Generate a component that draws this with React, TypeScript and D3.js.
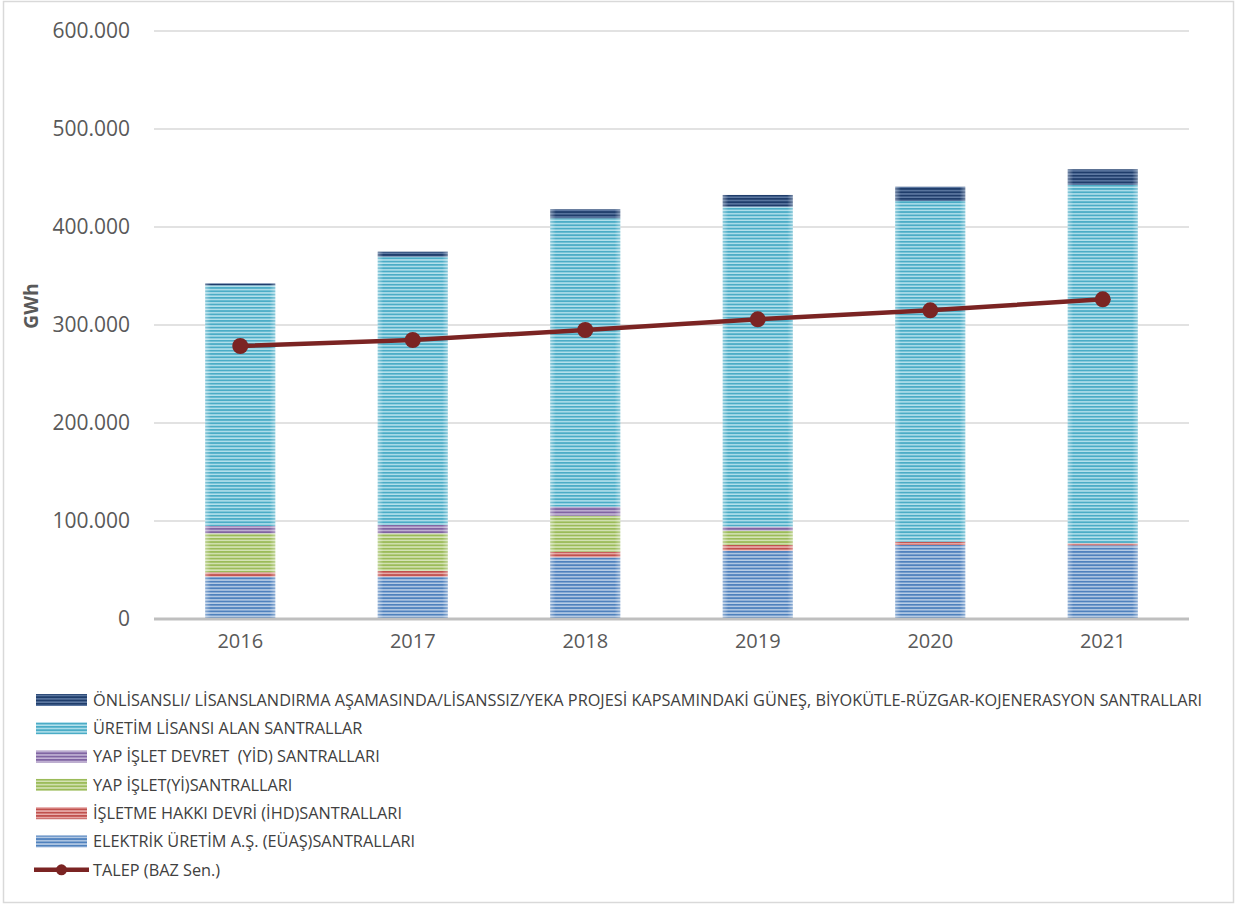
import React from "react";
import * as d3 from "d3";

const years = ["2016", "2017", "2018", "2019", "2020", "2021"];
const euas = [43200, 43200, 63000, 69700, 75500, 75200];
const ihd = [4400, 5800, 5700, 5800, 3400, 2000];
const yi = [39800, 38400, 36700, 14600, 0, 0];
const yid = [7500, 8500, 9200, 4100, 0, 0];
const uretim = [245600, 273800, 294300, 326500, 347600, 365700];
const onl = [2000, 5100, 9200, 12000, 14600, 16000];
const talep = [278600, 284700, 294900, 305800, 315000, 326200];
const yTicks = [0, 100000, 200000, 300000, 400000, 500000, 600000];

const seriesNames = [
  "ELEKTRİK ÜRETİM A.Ş. (EÜAŞ)SANTRALLARI",
  "İŞLETME HAKKI DEVRİ (İHD)SANTRALLARI",
  "YAP İŞLET(Yİ)SANTRALLARI",
  "YAP İŞLET DEVRET  (YİD) SANTRALLARI",
  "ÜRETİM LİSANSI ALAN SANTRALLAR",
  "ÖNLİSANSLI/ LİSANSLANDIRMA AŞAMASINDA/LİSANSSIZ/YEKA PROJESİ KAPSAMINDAKİ GÜNEŞ, BİYOKÜTLE-RÜZGAR-KOJENERASYON SANTRALLARI",
];
const seriesValues = [euas, ihd, yi, yid, uretim, onl];
const talepName = "TALEP (BAZ Sen.)";

const stripeColors = ["#4f81bd", "#c0504d", "#9bbb59", "#8064a2", "#4bacc6", "#1f3d6b"];
const bgColors = ["#b9cde6", "#eab0ae", "#d6e4b8", "#c4b5d6", "#b5e1ec", "#5f7aa3"];

const W = 1237;
const H = 907;
const left = 154;
const right = 1189;
const top = 31;
const bottom = 619;

const fmt = d3
  .formatLocale({ decimal: ",", thousands: ".", grouping: [3], currency: ["", ""] })
  .format(",");

export default function App() {
  const x = d3.scaleBand<string>().domain(years).range([left, right]).paddingInner(0.594).paddingOuter(0.297);
  const y = d3.scaleLinear().domain([0, 600000]).range([bottom, top]);

  const table = years.map((yr, i) => {
    const row: any = { year: yr };
    seriesValues.forEach((s, k) => (row["s" + k] = s[i]));
    return row;
  });
  const stack = d3.stack<any>().keys(seriesValues.map((_, k) => "s" + k));
  const stacked = stack(table);

  const line = d3
    .line<number>()
    .x((_, i) => (x(years[i]) as number) + x.bandwidth() / 2)
    .y((d) => y(d));

  const font = "'Open Sans', 'DejaVu Sans', sans-serif";
  const legendOrder = [5, 4, 3, 2, 1, 0];
  const legendY0 = 700;
  const legendStep = 28.3;

  return (
    <div style={{ position: "absolute", left: 0, top: 0 }}>
      <svg width={W} height={H} style={{ display: "block", background: "#fff" }}>
        <defs>
          {stripeColors.map((c, k) => (
            <pattern key={k} id={"pat" + k} patternUnits="userSpaceOnUse" width={8} height={3.3}>
              <rect x={0} y={0} width={8} height={3.3} fill={bgColors[k]} />
              <rect x={0} y={0} width={8} height={1.8} fill={c} />
            </pattern>
          ))}
          <linearGradient id="edge" x1="0" x2="1" y1="0" y2="0">
            <stop offset="0" stopColor="#fff" stopOpacity={0.35} />
            <stop offset="0.08" stopColor="#fff" stopOpacity={0} />
            <stop offset="0.92" stopColor="#fff" stopOpacity={0} />
            <stop offset="1" stopColor="#fff" stopOpacity={0.35} />
          </linearGradient>
        </defs>
        <rect x={3.5} y={1.5} width={1230} height={901} fill="#fff" stroke="#d9d9d9" strokeWidth={1.5} />
        {yTicks.map((t) => (
          <g key={t}>
            {t > 0 && <line x1={left} x2={right} y1={y(t)} y2={y(t)} stroke="#d9d9d9" strokeWidth={1.3} />}
            <text x={130} y={y(t)} dy="0.35em" textAnchor="end" fontFamily={font} fontSize={21} fill="#595959">
              {fmt(t)}
            </text>
          </g>
        ))}
        <text
          transform={`translate(38,${306}) rotate(-90)`}
          textAnchor="middle"
          fontFamily={font}
          fontSize={19.5}
          fontWeight="bold"
          fill="#595959"
        >
          GWh
        </text>
        {stacked.map((s, k) => (
          <g key={k} fill={`url(#pat${k})`}>
            {s.map((d, i) =>
              d[1] - d[0] > 0 ? (
                <rect
                  key={i}
                  x={x(years[i])}
                  y={y(d[1])}
                  width={x.bandwidth()}
                  height={y(d[0]) - y(d[1])}
                />
              ) : null
            )}
          </g>
        ))}
        {years.map((yr, i) => {
          const tot = seriesValues.reduce((a, s) => a + s[i], 0);
          return (
            <rect key={yr} x={x(yr)} y={y(tot)} width={x.bandwidth()} height={y(0) - y(tot)} fill="url(#edge)" />
          );
        })}
        <line x1={left} x2={right} y1={bottom} y2={bottom} stroke="#bfbfbf" strokeWidth={3} />
        {years.map((yr) => (
          <text
            key={yr}
            x={(x(yr) as number) + x.bandwidth() / 2}
            y={641}
            dy="0.35em"
            textAnchor="middle"
            fontFamily={font}
            fontSize={20}
            fill="#595959"
          >
            {yr}
          </text>
        ))}
        <path d={line(talep) || ""} fill="none" stroke="#7b2423" strokeWidth={4.5} />
        {talep.map((v, i) => (
          <circle key={i} cx={(x(years[i]) as number) + x.bandwidth() / 2} cy={y(v)} r={8} fill="#7b2423" />
        ))}
        {legendOrder.map((k, j) => {
          const ly = legendY0 + j * legendStep;
          return (
            <g key={k}>
              <rect x={36} y={ly - 6} width={51} height={12} fill={`url(#pat${k})`} />
              <text
                x={93}
                y={ly}
                dy="0.35em"
                fontFamily={font}
                fontSize={16.3}
                fill="#404040"
                style={{ whiteSpace: "pre" }}
              >
                {seriesNames[k]}
              </text>
            </g>
          );
        })}
        <g>
          <line x1={34} x2={89} y1={legendY0 + 6 * legendStep} y2={legendY0 + 6 * legendStep} stroke="#7b2423" strokeWidth={4.5} />
          <circle cx={61.5} cy={legendY0 + 6 * legendStep} r={5.5} fill="#7b2423" />
          <text x={93} y={legendY0 + 6 * legendStep} dy="0.35em" fontFamily={font} fontSize={16.3} fill="#404040">
            {talepName}
          </text>
        </g>
      </svg>
    </div>
  );
}
